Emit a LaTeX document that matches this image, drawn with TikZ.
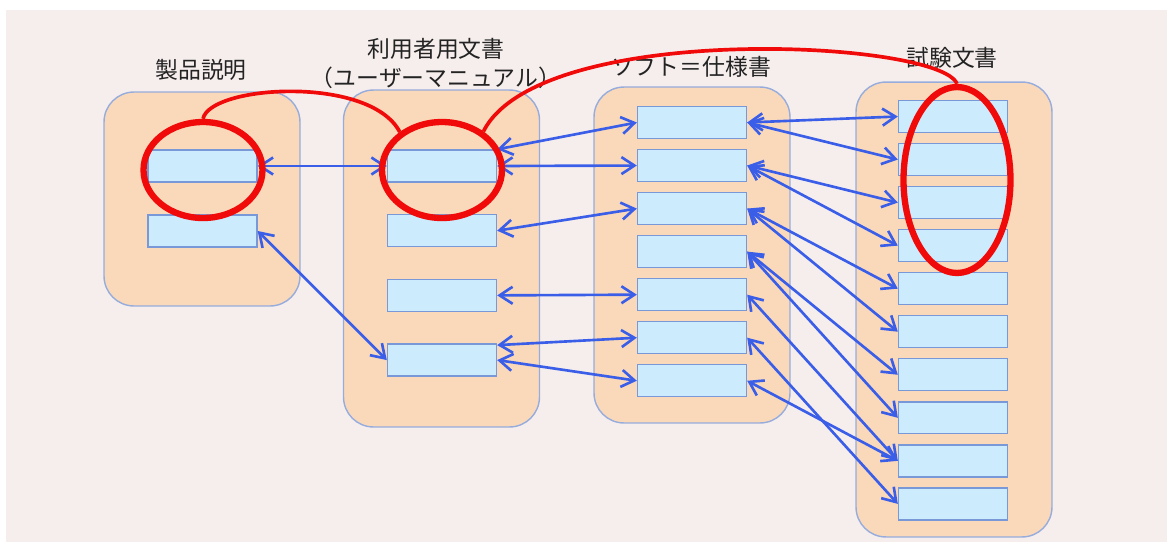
\documentclass[tikz,border=0pt]{standalone}
\usepackage{fontspec}
\setmainfont{Noto Sans CJK JP}
\usetikzlibrary{positioning, shapes.geometric, arrows.meta}

\definecolor{panel}{RGB}{246,238,237}
\definecolor{peach}{RGB}{250,217,186}
\definecolor{colline}{RGB}{150,172,220}
\definecolor{itemfill}{RGB}{204,235,252}
\definecolor{itemline}{RGB}{120,152,215}
\definecolor{linkblue}{RGB}{58,94,232}
\definecolor{ringred}{RGB}{240,10,10}
\definecolor{headgray}{RGB}{35,35,35}

\tikzset{
  col/.style={rectangle, rounded corners=0.6cm, draw=colline, fill=peach,
    line width=0.8pt, minimum width=3.92cm},
  item/.style={rectangle, draw=itemline, fill=itemfill, line width=0.8pt,
    minimum width=2.18cm, minimum height=0.64cm, inner sep=0pt},
  link/.style={<->, >={Straight Barb[length=2.6mm,width=3.4mm]},
    line width=1.5pt, draw=linkblue},
  ring/.style={ellipse, draw=ringred, line width=3.6pt, inner sep=0pt},
  redline/.style={draw=ringred, line width=2.1pt},
  heading/.style={text=headgray, font=\fontsize{13}{16.5}\selectfont, align=center}
}

\begin{document}
\begin{tikzpicture}[x=0.02cm, y=-0.02cm, node distance=0.861cm]

    \useasboundingbox (0,0) rectangle (1167,542);
    \fill[white] (0,0) rectangle (1167,542);
    \fill[panel] (6,10) rectangle (1167,542);

    % the four columns
    \node[col, minimum height=4.28cm] (col1) at (202,199) {};
    \node[col, minimum height=6.74cm] (col2) at (441.5,258.5) {};
    \node[col, minimum height=6.72cm] (col3) at (692,255) {};
    \node[col, minimum height=9.10cm] (col4) at (954,309.5) {};

    \node[heading] (hd1) at (201,70) {製品説明};
    \node[heading] (hd2) at (436,63) {利用者用文書\\（ユーザーマニュアル）};
    \node[heading] (hd3) at (691,67) {ソフト＝仕様書};
    \node[heading] (hd4) at (952,58) {試験文書};

    % 製品説明
    \node[item] (p1) at (202.5,166) {};
    \node[item, below of=p1, yshift=-0.439cm] (p2) {};

    % 利用者用文書
    \node[item] (u1) at (442,166) {};
    \node[item, below of=u1, yshift=-0.433cm] (u2) {};
    \node[item, below of=u2, yshift=-0.433cm] (u3) {};
    \node[item, below of=u3, yshift=-0.433cm] (u4) {};

    % 仕様書
    \node[item] (s1) at (692,122.5) {};
    \node[item, below of=s1] (s2) {};
    \node[item, below of=s2] (s3) {};
    \node[item, below of=s3] (s4) {};
    \node[item, below of=s4] (s5) {};
    \node[item, below of=s5] (s6) {};
    \node[item, below of=s6] (s7) {};

    % 試験文書
    \node[item] (t1) at (953,116.5) {};
    \node[item, below of=t1] (t2) {};
    \node[item, below of=t2] (t3) {};
    \node[item, below of=t3] (t4) {};
    \node[item, below of=t4] (t5) {};
    \node[item, below of=t5] (t6) {};
    \node[item, below of=t6] (t7) {};
    \node[item, below of=t7] (t8) {};
    \node[item, below of=t8] (t9) {};
    \node[item, below of=t9] (t10) {};

    % links
    \draw[link] (p1.east)--(u1.west);
    \draw[link] (p2.east)--(u4.west);

    \draw[link] (u1.north east)--(s1.west);
    \draw[link] (u1.east)--(s2.west);
    \draw[link] (u2.east)--(s3.west);
    \draw[link] (u3.east)--(s5.west);
    \draw[link] ([yshift=-1pt]u4.north east)--(s6.west);
    \draw[link] (u4.east)--(s7.west);

    \draw[link] (s1.east)--(t1.west);
    \draw[link] (s1.east)--(t2.west);
    \draw[link] (s2.east)--(t3.west);
    \draw[link] (s2.east)--(t4.west);
    \draw[link] (s3.east)--(t5.west);
    \draw[link] (s3.east)--(t6.west);
    \draw[link] (s4.east)--(t7.west);
    \draw[link] (s4.east)--(t8.west);
    \draw[link] (s5.east)--(t9.west);
    \draw[link] (s6.east)--(t10.west);
    \draw[link] (s7.east)--(t9.west);

    % red marks
    \node[ring, minimum width=2.38cm, minimum height=1.92cm] (e1) at (203,170) {};
    \node[ring, minimum width=2.40cm, minimum height=1.92cm] (e2) at (442,170) {};
    \node[ring, minimum width=2.14cm, minimum height=3.72cm] (e3) at (957,180) {};

    \draw[redline] (e1.north) .. controls (210,85) and (370,75) .. (e2.138);
    \draw[redline] (e2.43) .. controls (540,20) and (940,40) .. (e3.north);
\end{tikzpicture}
\end{document}
